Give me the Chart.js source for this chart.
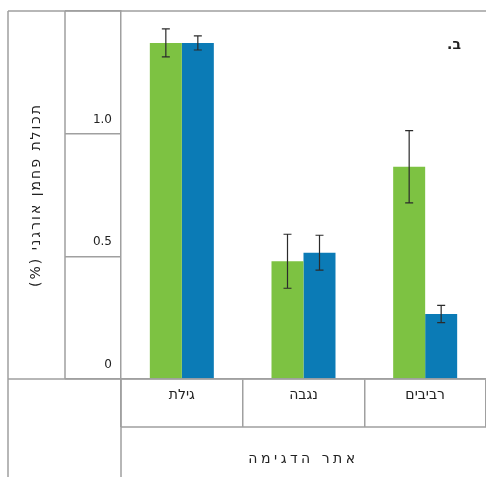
<!DOCTYPE html>
<html>
<head>
<meta charset="utf-8">
<script src="https://cdn.jsdelivr.net/npm/chart.js@4"></script>
<style>
  body { margin: 0; background: #fff; }
  #wrap { width: 486px; height: 477px; }
</style>
</head>
<body>
<div id="wrap"><canvas id="chart" dir="rtl"></canvas></div>
<script>
// data
const categories = ['גילת', 'נגבה', 'רביבים'];
const greenValues = [1.37, 0.48, 0.865];
const greenErrors = [0.057, 0.11, 0.147];
const blueValues = [1.37, 0.515, 0.265];
const blueErrors = [0.029, 0.071, 0.035];

const yTitle = 'תכולת פחמן אורגני (%)';
const xTitle = 'אתר הדגימה';
const panelLabel = 'ב.\u200F';

const lineColor = '#a0a0a0';
const textColor = '#222';
const fontFamily = "'DejaVu Sans', 'Liberation Sans', sans-serif";

// the axis titles in the source are widely letter-spaced
function spaced(scale, method, value) {
    const orig = scale[method];
    scale[method] = function (...args) {
        const ctx = this.ctx;
        const old = ctx.letterSpacing;
        ctx.letterSpacing = value;
        orig.apply(this, args);
        ctx.letterSpacing = old;
    };
}

const spacing = {
    id: 'spacing',
    beforeDraw(chart) {
        chart.ctx.direction = 'rtl';
        const { x, y } = chart.scales;
        if (!x._spaced) { spaced(x, 'drawTitle', '3.5px'); x._spaced = true; }
        if (!y._spaced) { spaced(y, 'drawTitle', '2px'); y._spaced = true; }
    }
};

// error bars drawn on top of the bars
const errorBars = {
    id: 'errorBars',
    afterDatasetsDraw(chart) {
        const ctx = chart.ctx;
        const y = chart.scales.y;
        ctx.save();
        ctx.strokeStyle = '#2b2b2b';
        ctx.lineWidth = 1.2;
        chart.data.datasets.forEach((ds, i) => {
            const meta = chart.getDatasetMeta(i);
            meta.data.forEach((bar, j) => {
                const v = ds.data[j];
                const e = ds.errors[j];
                const top = y.getPixelForValue(v + e);
                const bottom = y.getPixelForValue(v - e);
                ctx.beginPath();
                ctx.moveTo(bar.x, top);
                ctx.lineTo(bar.x, bottom);
                ctx.moveTo(bar.x - 4, top);
                ctx.lineTo(bar.x + 4, top);
                ctx.moveTo(bar.x - 4, bottom);
                ctx.lineTo(bar.x + 4, bottom);
                ctx.stroke();
            });
        });
        ctx.restore();
    }
};

// table frame around the chart, plus the panel letter
const frame = {
    id: 'frame',
    afterDraw(chart) {
        const ctx = chart.ctx;
        const a = chart.chartArea;
        const left = chart.options.layout.padding.left;
        const tickCol = a.left - chart.options.scales.y.grid.tickLength;
        const rowBottom = a.bottom + chart.options.scales.x.grid.tickLength;
        const W = chart.width, H = chart.height;
        ctx.save();
        ctx.strokeStyle = lineColor;
        ctx.lineWidth = 1.5;
        ctx.beginPath();
        ctx.moveTo(left, a.top); ctx.lineTo(W, a.top);
        ctx.moveTo(left, a.top); ctx.lineTo(left, H);
        ctx.moveTo(tickCol, a.top); ctx.lineTo(tickCol, a.bottom);
        ctx.moveTo(left, a.bottom); ctx.lineTo(W, a.bottom);
        ctx.moveTo(a.left, rowBottom); ctx.lineTo(W, rowBottom);
        ctx.moveTo(a.left, a.bottom); ctx.lineTo(a.left, H);
        ctx.stroke();

        ctx.direction = 'rtl';
        ctx.fillStyle = textColor;
        ctx.font = 'bold 14px ' + fontFamily;
        ctx.textAlign = 'center';
        ctx.textBaseline = 'middle';
        ctx.fillText(panelLabel, a.right - 32, a.top + 34);
        ctx.restore();
    }
};

new Chart(document.getElementById('chart'), {
    type: 'bar',
    data: {
        labels: categories,
        datasets: [
            { data: greenValues, errors: greenErrors, backgroundColor: '#7dc242' },
            { data: blueValues, errors: blueErrors, backgroundColor: '#0b7bb6' }
        ]
    },
    options: {
        responsive: true,
        maintainAspectRatio: false,
        animation: false,
        layout: { padding: { left: 8, top: 11, right: 0, bottom: 0 } },
        datasets: { bar: { categoryPercentage: 0.526, barPercentage: 1 } },
        plugins: { legend: { display: false }, tooltip: { enabled: false } },
        scales: {
            x: {
                afterFit(scale) { scale.height = 98; },
                grid: { drawOnChartArea: false, tickLength: 48, color: lineColor, lineWidth: 1.5 },
                border: { color: lineColor, width: 1.5 },
                ticks: { color: textColor, padding: -40, font: { family: fontFamily, size: 14 } },
                title: {
                    display: true, text: xTitle, color: textColor,
                    padding: { top: 0, bottom: 9 },
                    font: { family: fontFamily, size: 14 }
                }
            },
            y: {
                min: 0, max: 1.5,
                afterFit(scale) { scale.width = 113; },
                grid: { drawOnChartArea: false, tickLength: 56, color: lineColor, lineWidth: 1.5 },
                border: { color: lineColor, width: 1.5 },
                ticks: {
                    stepSize: 0.5, padding: -47, labelOffset: -14,
                    color: textColor, font: { family: fontFamily, size: 12 },
                    callback: v => v === 0 ? '0' : (v > 1.4 ? '' : v.toFixed(1))
                },
                title: {
                    display: true, text: yTitle, color: textColor,
                    padding: { top: 20, bottom: 0 },
                    font: { family: fontFamily, size: 14 }
                }
            }
        }
    },
    plugins: [spacing, errorBars, frame]
});
</script>
</body>
</html>
